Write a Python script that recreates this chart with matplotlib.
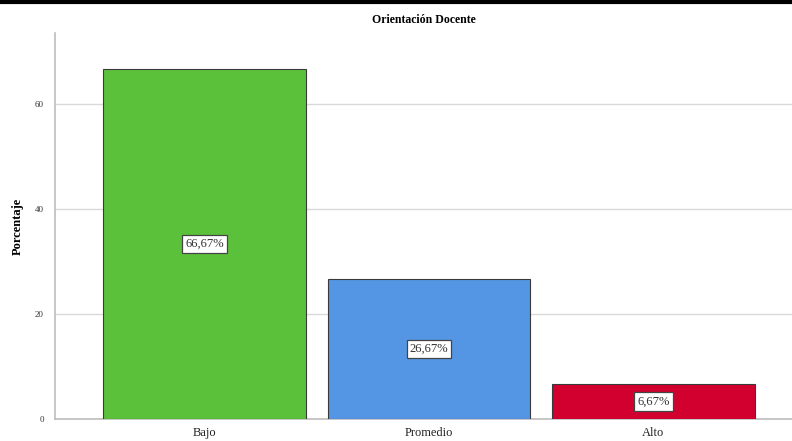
import numpy as np
import matplotlib.pyplot as plt
from matplotlib.lines import Line2D

# datos del gráfico
categorias = ["Bajo", "Promedio", "Alto"]
porcentajes = [66.67, 26.67, 6.67]
etiquetas = ["66,67%", "26,67%", "6,67%"]
colores = ["#5cc13a", "#5596e4", "#d2002e"]

plt.rcParams['font.family'] = ['Liberation Serif', 'DejaVu Serif']

fig = plt.figure(figsize=(7.92, 4.41), dpi=100)
ax = fig.add_axes([0.0694, 0.0499, 0.9306, 0.8755])

x = np.arange(len(categorias))
ax.bar(x, porcentajes, width=0.9, color=colores, edgecolor="#3a3a3a", linewidth=0.8, zorder=3)

for xi, v, et in zip(x, porcentajes, etiquetas):
    ax.text(xi, v / 2, et, ha="center", va="center", fontsize=9, color="#333333", zorder=4,
            bbox=dict(boxstyle="square,pad=0.25", facecolor="white", edgecolor="#444444", linewidth=0.9))

ax.set_xlim(-0.666, 2.617)
ax.set_ylim(0, 73.5)
ax.set_xticks(x)
ax.set_xticklabels(categorias, fontsize=9, color="#222222")
ax.set_yticks([0, 20, 40, 60])
ax.tick_params(axis="y", labelsize=6.5, length=0, pad=8, colors="#333333")
ax.tick_params(axis="x", length=0, pad=6)
ax.yaxis.grid(True, color="#d9d9d9", linewidth=1, zorder=0)

for s in ["top", "right"]:
    ax.spines[s].set_visible(False)
ax.spines["left"].set_color("#bdbdbd")
ax.spines["bottom"].set_color("#bdbdbd")
ax.spines["left"].set_linewidth(1.2)
ax.spines["bottom"].set_linewidth(1.2)

ax.set_title("Orientación Docente", fontsize=8.5, fontweight="bold", pad=7)
ax.set_ylabel("Porcentaje", fontsize=9, fontweight="bold", labelpad=8)

# línea negra superior
fig.add_artist(Line2D([0, 1], [0.996, 0.996], transform=fig.transFigure, color="black", linewidth=3))

fig.savefig("out.png", dpi=100)
